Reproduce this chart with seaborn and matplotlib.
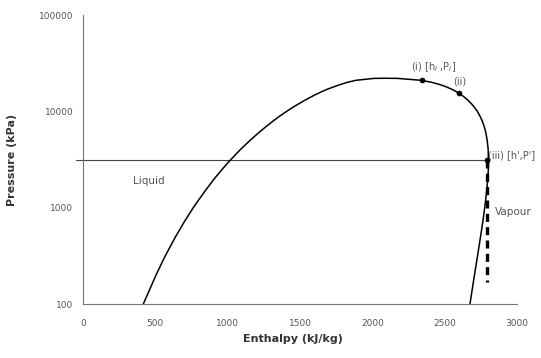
import matplotlib
matplotlib.use("Agg")
import matplotlib.pyplot as plt
import matplotlib.ticker as mticker
import seaborn as sns
import pandas as pd

sns.set_theme(style="white")
plt.rcParams['font.family'] = ['DejaVu Sans']

# Saturation dome (enthalpy kJ/kg, pressure kPa), liquid side then vapour side
liq_p = [100, 200, 300, 400, 500, 700, 1000, 1500, 2000, 2500, 3000, 4000, 5000, 6000, 7000, 8000,
         9000, 10000, 11000, 12000, 13000, 14000, 15000, 16000, 17000, 18000, 19000, 20000, 21000, 22000]
liq_h = [417, 505, 561, 605, 640, 697, 762, 845, 908, 962, 1008, 1087, 1155, 1214, 1268, 1317,
         1363, 1408, 1450, 1492, 1532, 1572, 1610, 1650, 1690, 1735, 1778, 1827, 1886, 2011]
crit_h = [2084]
crit_p = [22064]
vap_p = [22000, 21000, 20000, 19000, 18000, 17000, 16000, 15000, 14000, 13000, 12000, 11000, 10000,
         9000, 8000, 7000, 6000, 5000, 4000, 3000, 2500, 2000, 1500, 1000, 700, 500, 400, 300, 200, 100]
vap_h = [2173, 2338, 2411, 2466, 2510, 2548, 2581, 2610, 2638, 2662, 2685, 2706, 2726,
         2743, 2759, 2773, 2785, 2794, 2801, 2803, 2802, 2798, 2791, 2777, 2763, 2748, 2738, 2725, 2706, 2675]

# Marked states
pt_h = [2340, 2600, 2795]
pt_p = [21000, 15400, 3140]
pt_labels = ["(i) [h$_i$ ,P$_i$]", "(ii)", "(iii) [h',P']"]

# Horizontal reference pressure and dashed vertical path
ref_p = 3140
dash_h = [2795, 2795]
dash_p = [3140, 170]

x_ticks = [0, 500, 1000, 1500, 2000, 2500, 3000]
y_ticks = [100, 1000, 10000, 100000]

dome = pd.DataFrame({
    "h": liq_h + crit_h + vap_h,
    "p": liq_p + crit_p + vap_p,
})
pts = pd.DataFrame({"h": pt_h, "p": pt_p})
dash = pd.DataFrame({"h": dash_h, "p": dash_p})

fig = plt.figure(figsize=(5.41, 3.58), dpi=100)
ax = fig.add_axes([0.1534, 0.1508, 0.8022, 0.8072])

sns.lineplot(data=dome, x="h", y="p", sort=False, estimator=None, color="black", lw=1.1, ax=ax)
ax.plot([-50, 2810], [ref_p, ref_p], color="#444444", lw=0.8, clip_on=False, zorder=1)
sns.lineplot(data=dash, x="h", y="p", sort=False, estimator=None, color="black", lw=2.4, ax=ax)
ax.lines[-1].set_dashes([2.4, 1.6])
sns.scatterplot(data=pts, x="h", y="p", color="black", s=14, ax=ax, zorder=5, edgecolor="black")

ax.set_yscale("log")
ax.set_xlim(0, 3000)
ax.set_ylim(100, 100000)
ax.set_xticks(x_ticks)
ax.set_yticks(y_ticks)
ax.yaxis.set_minor_locator(mticker.NullLocator())
ax.yaxis.set_major_formatter(mticker.FuncFormatter(lambda v, p: f"{int(v)}"))
ax.tick_params(axis="y", labelsize=6.5, colors="#555555", length=3, width=0.7,
               direction="out", pad=4)
ax.tick_params(axis="x", labelsize=6.5, colors="#555555", length=4, width=0.7,
               direction="inout", pad=9)
ax.set_xlabel("")
ax.set_ylabel("")

for s in ["top", "right"]:
    ax.spines[s].set_visible(False)
for s in ["left", "bottom"]:
    ax.spines[s].set_color("#777777")
    ax.spines[s].set_linewidth(0.8)

fig.text(293 / 541, 1 - 339 / 358, "Enthalpy (kJ/kg)", fontsize=8, fontweight="bold",
         color="#333333", ha="center", va="center")
fig.text(12 / 541, 1 - 160 / 358, "Pressure (kPa)", fontsize=8, fontweight="bold",
         color="#333333", ha="center", va="center", rotation=90)

ax.text(2270, 28800, pt_labels[0], fontsize=7, color="#555555", ha="left", va="center")
ax.text(2560, 20600, pt_labels[1], fontsize=7, color="#555555", ha="left", va="center")
ax.text(2800, 3520, pt_labels[2], fontsize=7, color="#555555", ha="left", va="center", clip_on=False)
ax.text(345, 1900, "Liquid", fontsize=7.5, color="#555555", ha="left", va="center")
ax.text(2850, 906, "Vapour", fontsize=7.5, color="#555555", ha="left", va="center")

fig.savefig("out.png", dpi=100)
